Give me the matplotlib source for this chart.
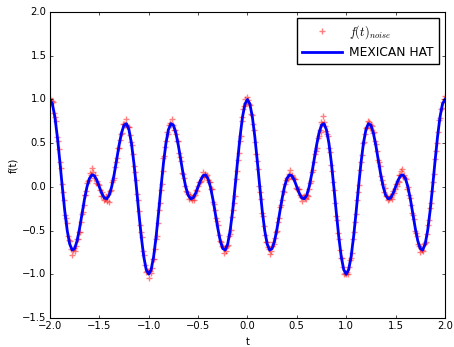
import numpy as np
import matplotlib
matplotlib.use('Agg')
import matplotlib.pyplot as plt

# noisy samples of f(t) (step 0.01 from -2 to 2)
t_noise = np.linspace(-2.0, 2.0, 401)
f_noise = [
    # t = -2.00 .. -1.01
    1.02, 0.96, 0.98, 0.97, 0.85, 0.80, 0.75, 0.57, 0.53, 0.43,
    0.28, 0.22, 0.03, -0.06, -0.15, -0.32, -0.36, -0.41, -0.56, -0.61,
    -0.62, -0.71, -0.78, -0.72, -0.70, -0.74, -0.68, -0.60, -0.60, -0.52,
    -0.52, -0.40, -0.31, -0.29, -0.21, -0.09, -0.09, -0.05, 0.04, 0.07,
    0.08, 0.16, 0.13, 0.22, 0.17, 0.10, 0.13, 0.04, 0.07, 0.03,
    0.02, -0.04, -0.10, -0.06, -0.10, -0.15, -0.14, -0.12, -0.16, -0.08,
    -0.17, -0.05, -0.04, 0.05, 0.08, 0.10, 0.23, 0.28, 0.33, 0.44,
    0.45, 0.54, 0.61, 0.62, 0.72, 0.72, 0.71, 0.78, 0.70, 0.69,
    0.68, 0.59, 0.51, 0.48, 0.38, 0.24, 0.17, 0.08, -0.08, -0.15,
    -0.28, -0.44, -0.52, -0.58, -0.73, -0.78, -0.89, -0.98, -0.96, -0.96,
    # t = -1.00 .. -0.01
    -1.04, -0.96, -0.99, -0.93, -0.83, -0.83, -0.71, -0.60, -0.56, -0.41,
    -0.26, -0.19, -0.04, 0.03, 0.18, 0.33, 0.35, 0.46, 0.53, 0.63,
    0.61, 0.71, 0.73, 0.71, 0.78, 0.71, 0.65, 0.65, 0.61, 0.53,
    0.52, 0.39, 0.34, 0.30, 0.16, 0.15, 0.10, 0.01, -0.05, -0.06,
    -0.08, -0.14, -0.09, -0.13, -0.15, -0.10, -0.15, -0.09, -0.04, -0.05,
    0.01, 0.06, 0.05, 0.07, 0.11, 0.17, 0.11, 0.15, 0.12, 0.14,
    0.08, 0.06, 0.05, -0.03, -0.03, -0.17, -0.20, -0.27, -0.36, -0.39,
    -0.44, -0.55, -0.62, -0.63, -0.68, -0.69, -0.76, -0.70, -0.73, -0.68,
    -0.67, -0.56, -0.54, -0.49, -0.35, -0.27, -0.18, -0.11, 0.09, 0.18,
    0.31, 0.39, 0.53, 0.58, 0.75, 0.80, 0.89, 0.92, 1.01, 0.96,
    # t = 0.00 .. 0.99
    1.03, 0.99, 0.95, 0.94, 0.83, 0.82, 0.72, 0.65, 0.51, 0.38,
    0.30, 0.20, 0.01, -0.06, -0.14, -0.30, -0.33, -0.45, -0.55, -0.63,
    -0.63, -0.69, -0.71, -0.77, -0.74, -0.68, -0.63, -0.65, -0.59, -0.52,
    -0.51, -0.40, -0.36, -0.23, -0.21, -0.15, -0.05, -0.06, 0.03, 0.08,
    0.10, 0.09, 0.15, 0.19, 0.12, 0.14, 0.10, 0.09, 0.09, -0.01,
    -0.02, -0.02, -0.03, -0.09, -0.12, -0.16, -0.12, -0.10, -0.13, -0.14,
    -0.09, -0.10, -0.02, 0.04, 0.07, 0.17, 0.19, 0.28, 0.38, 0.41,
    0.45, 0.56, 0.58, 0.65, 0.63, 0.74, 0.72, 0.81, 0.74, 0.70,
    0.64, 0.60, 0.58, 0.44, 0.40, 0.25, 0.18, 0.06, -0.04, -0.19,
    -0.33, -0.38, -0.53, -0.60, -0.72, -0.82, -0.82, -0.92, -1.00, -0.99,
    # t = 1.00 .. 2.00
    -1.00, -0.97, -1.00, -0.92, -0.84, -0.81, -0.76, -0.60, -0.52, -0.40,
    -0.31, -0.15, -0.06, 0.02, 0.19, 0.29, 0.36, 0.50, 0.51, 0.60,
    0.67, 0.68, 0.75, 0.74, 0.67, 0.71, 0.70, 0.62, 0.63, 0.53,
    0.49, 0.41, 0.31, 0.29, 0.24, 0.12, 0.08, 0.03, -0.06, -0.01,
    -0.11, -0.10, -0.15, -0.14, -0.11, -0.12, -0.14, -0.05, -0.07, -0.03,
    0.03, 0.01, 0.07, 0.06, 0.13, 0.13, 0.18, 0.20, 0.11, 0.13,
    0.10, 0.09, -0.02, 0.00, -0.09, -0.13, -0.21, -0.30, -0.32, -0.37,
    -0.50, -0.53, -0.56, -0.65, -0.68, -0.75, -0.70, -0.72, -0.74, -0.66,
    -0.64, -0.63, -0.54, -0.44, -0.38, -0.24, -0.19, -0.05, 0.06, 0.15,
    0.32, 0.41, 0.50, 0.63, 0.77, 0.79, 0.89, 0.90, 0.97, 1.00,
    1.04,
]

# smooth reconstruction (step 0.025 from -2 to 2)
t_line = np.linspace(-2.0, 2.0, 161)
mexican_hat = [
    1.000, 0.948, 0.799, 0.572, 0.294, 0.000, -0.275, -0.501, -0.655, -0.723,
    -0.707, -0.618, -0.476, -0.307, -0.140, 0.000, 0.096, 0.137, 0.127, 0.075,
    0.000, -0.075, -0.127, -0.137, -0.096, 0.000, 0.140, 0.307, 0.476, 0.618,
    0.707, 0.723, 0.655, 0.501, 0.275, 0.000, -0.294, -0.572, -0.799, -0.948,
    -1.000, -0.948, -0.799, -0.572, -0.294, 0.000, 0.275, 0.501, 0.655, 0.723,
    0.707, 0.618, 0.476, 0.307, 0.140, 0.000, -0.096, -0.137, -0.127, -0.075,
    0.000, 0.075, 0.127, 0.137, 0.096, 0.000, -0.140, -0.307, -0.476, -0.618,
    -0.707, -0.723, -0.655, -0.501, -0.275, 0.000, 0.294, 0.572, 0.799, 0.948,
    1.000, 0.948, 0.799, 0.572, 0.294, 0.000, -0.275, -0.501, -0.655, -0.723,
    -0.707, -0.618, -0.476, -0.307, -0.140, 0.000, 0.096, 0.137, 0.127, 0.075,
    0.000, -0.075, -0.127, -0.137, -0.096, 0.000, 0.140, 0.307, 0.476, 0.618,
    0.707, 0.723, 0.655, 0.501, 0.275, 0.000, -0.294, -0.572, -0.799, -0.948,
    -1.000, -0.948, -0.799, -0.572, -0.294, 0.000, 0.275, 0.501, 0.655, 0.723,
    0.707, 0.618, 0.476, 0.307, 0.140, 0.000, -0.096, -0.137, -0.127, -0.075,
    0.000, 0.075, 0.127, 0.137, 0.096, 0.000, -0.140, -0.307, -0.476, -0.618,
    -0.707, -0.723, -0.655, -0.501, -0.275, 0.000, 0.294, 0.572, 0.799, 0.948,
    1.000,
]

plt.style.use('classic')
plt.rcParams['font.family'] = ['DejaVu Sans']
plt.rcParams['font.size'] = 7.2
plt.rcParams['mathtext.fontset'] = 'cm'
plt.rcParams['xtick.major.size'] = 2.5
plt.rcParams['ytick.major.size'] = 2.5
plt.rcParams['xtick.major.pad'] = 2.5
plt.rcParams['ytick.major.pad'] = 2.5

fig = plt.figure(figsize=(4.54, 3.47), dpi=100, facecolor='white')
ax = fig.add_axes([0.110, 0.084, 0.870, 0.881])

ax.plot(t_noise, f_noise, '+', color='red', alpha=0.5, markersize=5,
        markeredgewidth=1.0, label=r'$f(t)_{noise}$')
ax.plot(t_line, mexican_hat, '-', color='blue', lw=2.0, label='MEXICAN HAT')

ax.set_xlim(-2.0, 2.0)
ax.set_ylim(-1.5, 2.0)
ax.set_xticks(np.arange(-2.0, 2.01, 0.5))
ax.set_yticks(np.arange(-1.5, 2.01, 0.5))
for spine in ax.spines.values():
    spine.set_linewidth(0.8)

ax.set_xlabel('t', labelpad=4)
ax.set_ylabel('f(t)', labelpad=3)

ax.legend(loc='upper right', numpoints=1, fontsize=8.8, handlelength=3.3,
          handletextpad=0.6, borderpad=0.4, labelspacing=0.4, frameon=True)

fig.savefig('out.png', dpi=100, facecolor='white')
